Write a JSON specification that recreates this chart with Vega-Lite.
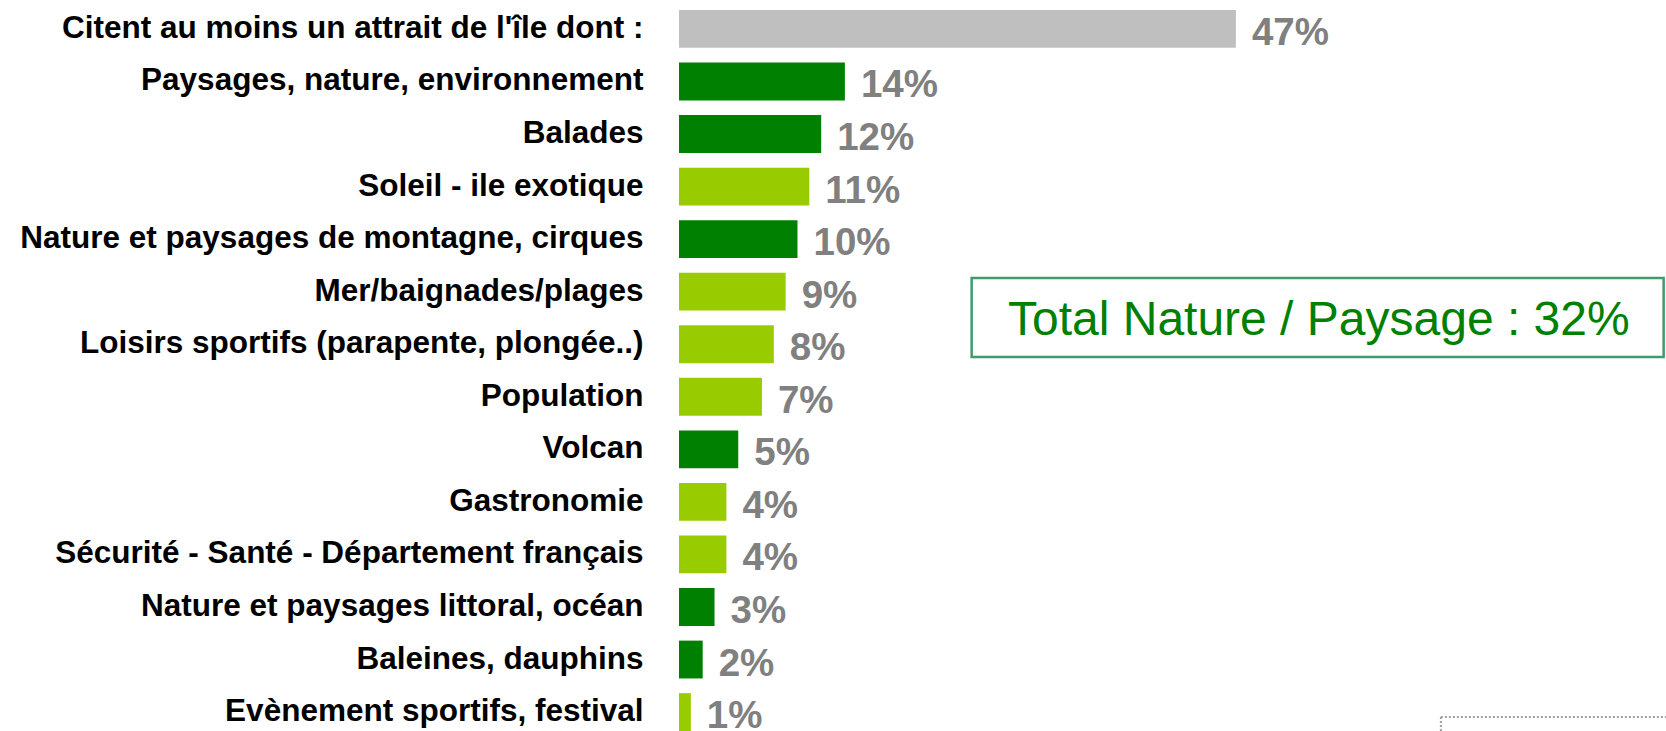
{
  "$schema": "https://vega.github.io/schema/vega-lite/v6.json",
  "width": 987,
  "height": 721,
  "autosize": {"type": "none"},
  "padding": {"left": 679, "top": 10, "right": 0, "bottom": 0},
  "background": "white",
  "config": {"view": {"stroke": null}, "font": "Liberation Sans"},
  "data": {
    "values": [
      {"attrait": "Citent au moins un attrait de l'île dont :", "part": 0.47, "groupe": "total"},
      {"attrait": "Paysages, nature, environnement", "part": 0.14, "groupe": "nature"},
      {"attrait": "Balades", "part": 0.12, "groupe": "nature"},
      {"attrait": "Soleil - ile exotique", "part": 0.11, "groupe": "autre"},
      {"attrait": "Nature et paysages de montagne, cirques", "part": 0.10, "groupe": "nature"},
      {"attrait": "Mer/baignades/plages", "part": 0.09, "groupe": "autre"},
      {"attrait": "Loisirs sportifs (parapente, plongée..)", "part": 0.08, "groupe": "autre"},
      {"attrait": "Population", "part": 0.07, "groupe": "autre"},
      {"attrait": "Volcan", "part": 0.05, "groupe": "nature"},
      {"attrait": "Gastronomie", "part": 0.04, "groupe": "autre"},
      {"attrait": "Sécurité - Santé - Département français", "part": 0.04, "groupe": "autre"},
      {"attrait": "Nature et paysages littoral, océan", "part": 0.03, "groupe": "nature"},
      {"attrait": "Baleines, dauphins", "part": 0.02, "groupe": "nature"},
      {"attrait": "Evènement sportifs, festival", "part": 0.01, "groupe": "autre"}
    ]
  },
  "resolve": {"scale": {"y": "shared", "x": "shared"}},
  "layer": [
    {
      "mark": {"type": "bar"},
      "encoding": {
        "y": {
          "field": "attrait",
          "type": "nominal",
          "scale": {
            "domain": [
              "Citent au moins un attrait de l'île dont :",
              "Paysages, nature, environnement",
              "Balades",
              "Soleil - ile exotique",
              "Nature et paysages de montagne, cirques",
              "Mer/baignades/plages",
              "Loisirs sportifs (parapente, plongée..)",
              "Population",
              "Volcan",
              "Gastronomie",
              "Sécurité - Santé - Département français",
              "Nature et paysages littoral, océan",
              "Baleines, dauphins",
              "Evènement sportifs, festival"
            ],
            "paddingInner": 0.28,
            "paddingOuter": 0
          },
          "axis": {
            "title": null,
            "domain": false,
            "ticks": false,
            "labelPadding": 36,
            "labelFont": "Liberation Sans",
            "labelFontSize": 31.5,
            "labelFontWeight": "bold",
            "labelColor": "#000000",
            "labelLimit": 1000
          }
        },
        "x": {"field": "part", "type": "quantitative", "scale": {"domain": [0, 0.833], "nice": false}, "axis": null},
        "color": {
          "field": "groupe",
          "type": "nominal",
          "scale": {"domain": ["total", "nature", "autre"], "range": ["#bfbfbf", "#008000", "#99cc00"]},
          "legend": null
        }
      }
    },
    {
      "mark": {"type": "text", "align": "left", "baseline": "middle", "dx": 16, "dy": 4, "font": "Liberation Sans", "fontSize": 38.5, "fontWeight": "bold", "color": "#808080"},
      "encoding": {
        "y": {"field": "attrait", "type": "nominal"},
        "x": {"field": "part", "type": "quantitative"},
        "text": {"field": "part", "type": "quantitative", "format": ".0%"}
      }
    },
    {
      "data": {"values": [{"texte": "Total Nature / Paysage : 32%"}]},
      "mark": {"type": "rect", "fill": null, "stroke": "#3c9c6c", "strokeWidth": 2.5},
      "encoding": {
        "x": {"datum": 0.247, "type": "quantitative"},
        "x2": {"datum": 0.831},
        "y": {"datum": "Mer/baignades/plages", "type": "nominal", "bandPosition": 0.14},
        "y2": {"datum": "Loisirs sportifs (parapente, plongée..)", "bandPosition": 0.84}
      }
    },
    {
      "data": {"values": [{"texte": "Total Nature / Paysage : 32%"}]},
      "mark": {"type": "text", "align": "center", "baseline": "middle", "dy": 10, "font": "Liberation Sans", "fontSize": 48, "color": "#008000"},
      "encoding": {
        "x": {"datum": 0.54, "type": "quantitative"},
        "y": {"datum": "Mer/baignades/plages", "type": "nominal", "bandPosition": 1},
        "text": {"field": "texte", "type": "nominal"}
      }
    },
    {
      "data": {"values": [{"texte": ""}]},
      "mark": {"type": "rule", "stroke": "#a0a0a0", "strokeWidth": 2, "strokeDash": [2, 2], "clip": true},
      "encoding": {
        "x": {"datum": 0.643, "type": "quantitative"},
        "x2": {"datum": 0.833},
        "y": {"datum": "Evènement sportifs, festival", "type": "nominal", "bandPosition": 0.63}
      }
    },
    {
      "data": {"values": [{"texte": ""}]},
      "mark": {"type": "rule", "stroke": "#a0a0a0", "strokeWidth": 2, "strokeDash": [2, 2], "clip": true},
      "encoding": {
        "x": {"datum": 0.643, "type": "quantitative"},
        "y": {"datum": "Evènement sportifs, festival", "type": "nominal", "bandPosition": 0.63},
        "y2": {"datum": "Evènement sportifs, festival", "bandPosition": 1.2}
      }
    }
  ]
}
